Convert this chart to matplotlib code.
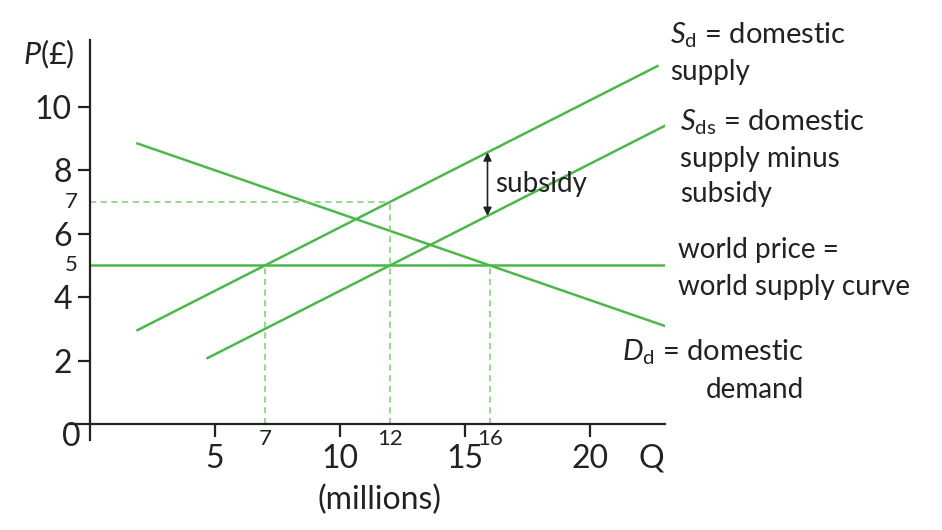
import matplotlib
matplotlib.use("Agg")
from matplotlib import pyplot as plt
import numpy as np

plt.rcParams['font.family'] = ['Lato', 'DejaVu Sans']
plt.rcParams['mathtext.fontset'] = 'custom'
plt.rcParams['mathtext.rm'] = 'Lato'
plt.rcParams['mathtext.it'] = 'Lato:italic'

# curves (quantity in millions, price in £)
sd_q = [1.9, 22.7]
sd_p = [2.96, 11.28]
sds_q = [4.7, 23.0]
sds_p = [2.08, 9.40]
dd_q = [1.9, 23.0]
dd_p = [8.84, 3.09]
world_q = [0, 23.0]
world_p = [5, 5]

# equilibrium guides
q_import_low = 7
q_subsidy = 12
q_demand = 16
p_world = 5
p_subsidy = 7

# subsidy arrow
arrow_q = 15.9
arrow_top = 8.56
arrow_bottom = 6.56

big_yticks = [2, 4, 6, 8, 10]
small_yticks = [5, 7]
big_xticks = [5, 10, 15, 20]
small_xticks = [7, 12, 16]

green = '#4cb84a'
light_green = '#7fcc73'
ink = '#222222'

fig = plt.figure(figsize=(9.42, 5.30), dpi=100)
ax = fig.add_axes([70 / 942, 90 / 530, 595 / 942, 400 / 530])
ax.set_xlim(-0.8, 23)
ax.set_ylim(-0.5, 12.1)

for side in ['top', 'right']:
    ax.spines[side].set_visible(False)
ax.spines['left'].set_position(('data', 0))
ax.spines['bottom'].set_position(('data', 0))
for side in ['left', 'bottom']:
    ax.spines[side].set_color(ink)
    ax.spines[side].set_linewidth(1.6)

ax.set_yticks(big_yticks)
ax.set_xticks(big_xticks)
ax.tick_params(axis='y', direction='out', length=9, width=1.6, color=ink,
               labelsize=23, pad=4, labelcolor=ink)
ax.tick_params(axis='x', direction='out', length=9, width=1.6, color=ink,
               labelsize=23, pad=5, labelcolor=ink)

# lines
ax.plot(sd_q, sd_p, color=green, lw=1.8)
ax.plot(sds_q, sds_p, color=green, lw=1.8)
ax.plot(dd_q, dd_p, color=green, lw=1.8)
ax.plot(world_q, world_p, color=green, lw=1.8)

dash = dict(color=light_green, lw=1.1, ls=(0, (4, 3)))
ax.plot([0, q_subsidy], [p_subsidy, p_subsidy], **dash)
ax.plot([q_import_low, q_import_low], [0, p_world], **dash)
ax.plot([q_subsidy, q_subsidy], [0, p_subsidy], **dash)
ax.plot([q_demand, q_demand], [0, p_world], **dash)

ax.annotate('', xy=(arrow_q, arrow_top), xytext=(arrow_q, arrow_bottom),
            arrowprops=dict(arrowstyle='<|-|>', color=ink, lw=1.2,
                            mutation_scale=12, shrinkA=0, shrinkB=0))
ax.text(arrow_q + 0.3, 7.55, 'subsidy', fontsize=20, color=ink, va='center', ha='left')

# small tick labels
for v in small_yticks:
    ax.text(-0.5, v, str(v), fontsize=16, color=ink, ha='right', va='center')
for v in small_xticks:
    ax.text(v, -0.15, str(v), fontsize=16, color=ink, ha='center', va='top')

ax.text(-0.75, -0.4, '0', fontsize=23, color=ink, ha='center', va='center')
ax.text(22.45, -1.07, 'Q', fontsize=23, color=ink, ha='center', va='center')
ax.text(11.6, -2.4, '(millions)', fontsize=23, color=ink, ha='center', va='center')
ax.text(-0.6, 11.63, r'$P$(£)', fontsize=22, color=ink, ha='right', va='center')

# curve labels
fs = 20
fig.text(670 / 942, 1 - 35 / 530, r'$S_{\mathrm{d}}$ = domestic', fontsize=fs + 1, color=ink, va='center')
fig.text(670 / 942, 1 - 72 / 530, 'supply', fontsize=fs, color=ink, va='center')
fig.text(680 / 942, 1 - 122 / 530, r'$S_{\mathrm{ds}}$ = domestic', fontsize=fs + 1, color=ink, va='center')
fig.text(680 / 942, 1 - 159 / 530, 'supply minus', fontsize=fs, color=ink, va='center')
fig.text(680 / 942, 1 - 194 / 530, 'subsidy', fontsize=fs, color=ink, va='center')
fig.text(678 / 942, 1 - 250 / 530, 'world price =', fontsize=fs, color=ink, va='center')
fig.text(678 / 942, 1 - 287 / 530, 'world supply curve', fontsize=fs, color=ink, va='center')
fig.text(622 / 942, 1 - 352 / 530, r'$D_{\mathrm{d}}$ = domestic', fontsize=fs + 1, color=ink, va='center')
fig.text(706 / 942, 1 - 390 / 530, 'demand', fontsize=fs, color=ink, va='center')

fig.savefig('out.png', dpi=100)
